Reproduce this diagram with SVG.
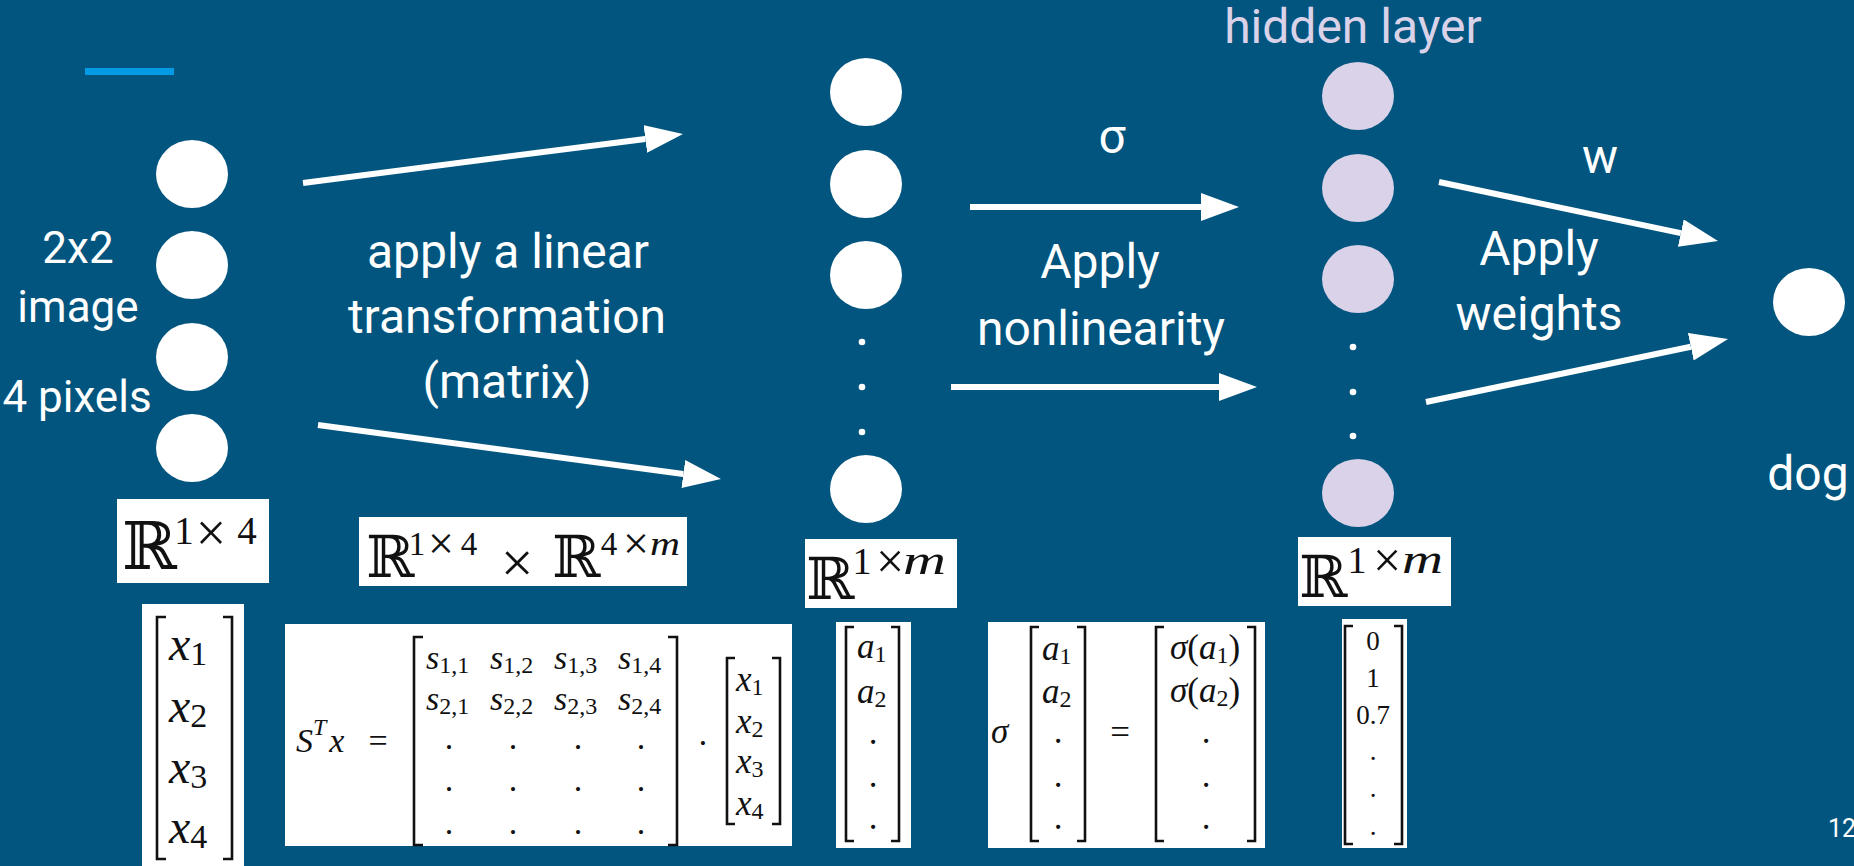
<svg xmlns="http://www.w3.org/2000/svg" width="1854" height="866" viewBox="0 0 1854 866">
  <defs>
    <style>
      .bg { fill: #02557e; }
      .label { font-family: Roboto, "Liberation Sans", sans-serif; fill: #ffffff; text-anchor: middle; }
      .big { font-size: 48px; }
      .side { font-size: 44px; }
      .node { fill: #ffffff; }
      .hidden { fill: #d9d2e9; }
      .dot { fill: #ffffff; }
      .edge { stroke: #ffffff; stroke-width: 6; fill: none; }
      .panel { fill: #ffffff; }
      .brk { stroke: #111111; stroke-width: 2.6; fill: none; }
      .m { font-family: "Liberation Serif", "Times New Roman", serif; fill: #111111; }
      .mi { font-family: "Liberation Serif", "Times New Roman", serif; font-style: italic; fill: #111111; }
      .up { font-style: normal; }
      .bb { font-family: "DejaVu Serif", "DejaVu Sans", serif; fill: #111111; }
      .c { text-anchor: middle; }
    </style>
    <marker id="head" markerUnits="userSpaceOnUse" markerWidth="38" markerHeight="28" refX="0" refY="14" orient="auto">
      <path d="M0,0 L38,14 L0,28 z" fill="#ffffff"/>
    </marker>
  </defs>

  <rect class="bg" x="0" y="0" width="1854" height="866"/>
  <rect x="85" y="68" width="89" height="7" fill="#039be5"/>

  <!-- input layer: four pixels -->
  <g id="input-layer">
    <ellipse class="node" cx="192" cy="174" rx="36" ry="34"/>
    <ellipse class="node" cx="192" cy="265" rx="36" ry="34"/>
    <ellipse class="node" cx="192" cy="357" rx="36" ry="34"/>
    <ellipse class="node" cx="192" cy="448" rx="36" ry="34"/>
  </g>
  <g id="input-label">
    <text class="label side" x="78" y="263">2x2</text>
    <text class="label side" x="78" y="322">image</text>
    <text class="label side" x="77" y="412">4 pixels</text>
  </g>

  <!-- linear layer -->
  <g id="linear-layer">
    <ellipse class="node" cx="866" cy="92" rx="36" ry="34"/>
    <ellipse class="node" cx="866" cy="184" rx="36" ry="34"/>
    <ellipse class="node" cx="866" cy="275" rx="36" ry="34"/>
    <circle class="dot" cx="862" cy="342" r="3.3"/>
    <circle class="dot" cx="862" cy="387" r="3.3"/>
    <circle class="dot" cx="862" cy="432" r="3.3"/>
    <ellipse class="node" cx="866" cy="489" rx="36" ry="34"/>
  </g>

  <!-- hidden layer -->
  <g id="hidden-layer">
    <text class="label big" x="1353" y="43" style="fill:#d9d2e9">hidden layer</text>
    <ellipse class="hidden" cx="1358" cy="96" rx="36" ry="34"/>
    <ellipse class="hidden" cx="1358" cy="188" rx="36" ry="34"/>
    <ellipse class="hidden" cx="1358" cy="279" rx="36" ry="34"/>
    <circle class="dot" cx="1353" cy="347" r="3.3"/>
    <circle class="dot" cx="1353" cy="392" r="3.3"/>
    <circle class="dot" cx="1353" cy="436" r="3.3"/>
    <ellipse class="hidden" cx="1358" cy="493" rx="36" ry="34"/>
  </g>

  <!-- output -->
  <g id="output-node">
    <ellipse class="node" cx="1809" cy="302" rx="36" ry="34"/>
    <text class="label big" x="1808" y="490">dog</text>
  </g>

  <!-- connectors -->
  <g id="connectors">
    <line class="edge" x1="303" y1="183" x2="645.3" y2="138.9" marker-end="url(#head)"/>
    <line class="edge" x1="318" y1="425" x2="683.3" y2="474.0" marker-end="url(#head)"/>
    <line class="edge" x1="970" y1="207" x2="1201" y2="207" marker-end="url(#head)"/>
    <line class="edge" x1="951" y1="387" x2="1219" y2="387" marker-end="url(#head)"/>
    <line class="edge" x1="1439" y1="182" x2="1680.8" y2="233.1" marker-end="url(#head)"/>
    <line class="edge" x1="1426" y1="402" x2="1690.8" y2="346.8" marker-end="url(#head)"/>
  </g>

  <!-- step labels -->
  <g id="step-labels">
    <text class="label big" x="508" y="268">apply a linear</text>
    <text class="label big" x="507" y="333">transformation</text>
    <text class="label big" x="507" y="398">(matrix)</text>
    <text class="label big" x="1112" y="153">σ</text>
    <text class="label big" x="1100" y="278">Apply</text>
    <text class="label big" x="1101" y="345">nonlinearity</text>
    <text class="label big" x="1600" y="173">w</text>
    <text class="label big" x="1539" y="265">Apply</text>
    <text class="label big" x="1539" y="330">weights</text>
  </g>

  <!-- dimension of the input -->
  <g id="dim-input">
    <rect class="panel" x="117" y="499" width="152" height="84"/>
    <text class="bb" x="122" y="569" font-size="66">ℝ<tspan class="m c" x="184" y="544" font-size="39">1</tspan><tspan class="m c" x="211" y="551" font-size="54">×</tspan><tspan class="m c" x="247" y="544" font-size="39">4</tspan></text>
  </g>

  <!-- dimensions of the product -->
  <g id="dim-product">
    <rect class="panel" x="359" y="517" width="328" height="69"/>
    <text class="bb" x="366" y="577" font-size="58">ℝ<tspan class="m c" x="417" y="555" font-size="33">1</tspan><tspan class="m c" x="441" y="559" font-size="46">×</tspan><tspan class="m c" x="469" y="555" font-size="33">4</tspan><tspan class="m c" x="517" y="582" font-size="58">×</tspan><tspan x="552" y="577">ℝ</tspan><tspan class="m c" x="609" y="555" font-size="33">4</tspan><tspan class="m c" x="636" y="559" font-size="46">×</tspan></text>
    <text class="mi" x="650" y="555" font-size="33" textLength="30" lengthAdjust="spacingAndGlyphs">m</text>
  </g>

  <!-- dimension of the linear layer -->
  <g id="dim-linear">
    <rect class="panel" x="805" y="539" width="152" height="69"/>
    <text class="bb" x="806" y="599" font-size="58">ℝ<tspan class="m c" x="862" y="574" font-size="38">1</tspan><tspan class="m c" x="890" y="578" font-size="50">×</tspan></text>
    <text class="mi" x="903" y="574" font-size="40" textLength="43" lengthAdjust="spacingAndGlyphs">m</text>
  </g>

  <!-- dimension of the hidden layer -->
  <g id="dim-hidden">
    <rect class="panel" x="1298" y="537" width="153" height="69"/>
    <text class="bb" x="1299" y="597" font-size="58">ℝ<tspan class="m c" x="1357" y="573" font-size="38">1</tspan><tspan class="m c" x="1387" y="577" font-size="50">×</tspan></text>
    <text class="mi" x="1402" y="573" font-size="40" textLength="41" lengthAdjust="spacingAndGlyphs">m</text>
  </g>

  <!-- input vector -->
  <g id="vec-x">
    <rect class="panel" x="142" y="604" width="102" height="262"/>
    <path class="brk" d="M166,617 H157 V859 H166"/>
    <path class="brk" d="M223,617 H232 V859 H223"/>
    <text class="mi" x="169" y="660" font-size="48">x<tspan class="m up" font-size="34" dy="5">1</tspan></text>
    <text class="mi" x="169" y="722" font-size="48">x<tspan class="m up" font-size="34" dy="5">2</tspan></text>
    <text class="mi" x="169" y="783" font-size="48">x<tspan class="m up" font-size="34" dy="5">3</tspan></text>
    <text class="mi" x="169" y="843" font-size="48">x<tspan class="m up" font-size="34" dy="5">4</tspan></text>
  </g>

  <!-- matrix product -->
  <g id="matrix-product">
    <rect class="panel" x="285" y="624" width="507" height="222"/>
    <text class="mi" x="296" y="752" font-size="34">S<tspan font-size="24" dy="-17">T</tspan><tspan dy="17" dx="3">x</tspan><tspan class="m up" x="378" text-anchor="middle">=</tspan></text>
    <path class="brk" d="M423,637 H414 V845 H423"/>
    <path class="brk" d="M668,637 H677 V845 H668"/>
    <g font-size="34">
      <text class="mi" x="426" y="669">s<tspan class="m up" font-size="24" dy="4">1,1</tspan></text>
      <text class="mi" x="490" y="669">s<tspan class="m up" font-size="24" dy="4">1,2</tspan></text>
      <text class="mi" x="554" y="669">s<tspan class="m up" font-size="24" dy="4">1,3</tspan></text>
      <text class="mi" x="618" y="669">s<tspan class="m up" font-size="24" dy="4">1,4</tspan></text>
      <text class="mi" x="426" y="710">s<tspan class="m up" font-size="24" dy="4">2,1</tspan></text>
      <text class="mi" x="490" y="710">s<tspan class="m up" font-size="24" dy="4">2,2</tspan></text>
      <text class="mi" x="554" y="710">s<tspan class="m up" font-size="24" dy="4">2,3</tspan></text>
      <text class="mi" x="618" y="710">s<tspan class="m up" font-size="24" dy="4">2,4</tspan></text>
      <text class="m c" x="449" y="749">.</text><text class="m c" x="513" y="749">.</text><text class="m c" x="578" y="749">.</text><text class="m c" x="641" y="749">.</text>
      <text class="m c" x="449" y="791">.</text><text class="m c" x="513" y="791">.</text><text class="m c" x="578" y="791">.</text><text class="m c" x="641" y="791">.</text>
      <text class="m c" x="449" y="834">.</text><text class="m c" x="513" y="834">.</text><text class="m c" x="578" y="834">.</text><text class="m c" x="641" y="834">.</text>
      <text class="m c" x="703" y="754">·</text>
    </g>
    <path class="brk" d="M735,658 H727 V824 H735"/>
    <path class="brk" d="M772,658 H780 V824 H772"/>
    <g font-size="35">
      <text class="mi" x="736" y="691">x<tspan class="m up" font-size="24" dy="4">1</tspan></text>
      <text class="mi" x="736" y="733">x<tspan class="m up" font-size="24" dy="4">2</tspan></text>
      <text class="mi" x="736" y="773">x<tspan class="m up" font-size="24" dy="4">3</tspan></text>
      <text class="mi" x="736" y="815">x<tspan class="m up" font-size="24" dy="4">4</tspan></text>
    </g>
  </g>

  <!-- linear layer activations -->
  <g id="vec-a">
    <rect class="panel" x="836" y="622" width="75" height="226"/>
    <path class="brk" d="M854,627 H846 V841 H854"/>
    <path class="brk" d="M891,627 H899 V841 H891"/>
    <g font-size="35">
      <text class="mi" x="857" y="658">a<tspan class="m up" font-size="24" dy="4">1</tspan></text>
      <text class="mi" x="857" y="703">a<tspan class="m up" font-size="24" dy="4">2</tspan></text>
      <text class="m c" x="873" y="744">.</text>
      <text class="m c" x="873" y="787">.</text>
      <text class="m c" x="873" y="829">.</text>
    </g>
  </g>

  <!-- nonlinearity applied element-wise -->
  <g id="sigma-map">
    <rect class="panel" x="988" y="622" width="277" height="226"/>
    <g font-size="35">
      <text class="mi" x="991" y="743">σ</text>
      <path class="brk" d="M1039,627 H1031 V841 H1039"/>
      <path class="brk" d="M1077,627 H1085 V841 H1077"/>
      <text class="mi" x="1042" y="660">a<tspan class="m up" font-size="24" dy="4">1</tspan></text>
      <text class="mi" x="1042" y="703">a<tspan class="m up" font-size="24" dy="4">2</tspan></text>
      <text class="m c" x="1058" y="743">.</text>
      <text class="m c" x="1058" y="787">.</text>
      <text class="m c" x="1058" y="829">.</text>
      <text class="m c" x="1120" y="744">=</text>
      <path class="brk" d="M1164,627 H1156 V841 H1164"/>
      <path class="brk" d="M1247,627 H1255 V841 H1247"/>
      <text class="mi c" x="1205" y="659">σ<tspan class="m up">(</tspan>a<tspan class="m up" font-size="24" dy="4">1</tspan><tspan class="m up" dy="-4">)</tspan></text>
      <text class="mi c" x="1205" y="702">σ<tspan class="m up">(</tspan>a<tspan class="m up" font-size="24" dy="4">2</tspan><tspan class="m up" dy="-4">)</tspan></text>
      <text class="m c" x="1206" y="743">.</text>
      <text class="m c" x="1206" y="787">.</text>
      <text class="m c" x="1206" y="829">.</text>
    </g>
  </g>

  <!-- hidden layer activations -->
  <g id="vec-h">
    <rect class="panel" x="1342" y="619" width="65" height="229"/>
    <path class="brk" d="M1353,626 H1345 V844 H1353"/>
    <path class="brk" d="M1394,626 H1402 V844 H1394"/>
    <g font-size="27">
      <text class="m c" x="1373" y="650">0</text>
      <text class="m c" x="1373" y="687">1</text>
      <text class="m c" x="1373" y="724">0.7</text>
      <text class="m c" x="1373" y="760">.</text>
      <text class="m c" x="1373" y="797">.</text>
      <text class="m c" x="1373" y="835">.</text>
    </g>
  </g>

  <text class="label" x="1828" y="837" font-size="25" style="text-anchor:start">12</text>
</svg>
